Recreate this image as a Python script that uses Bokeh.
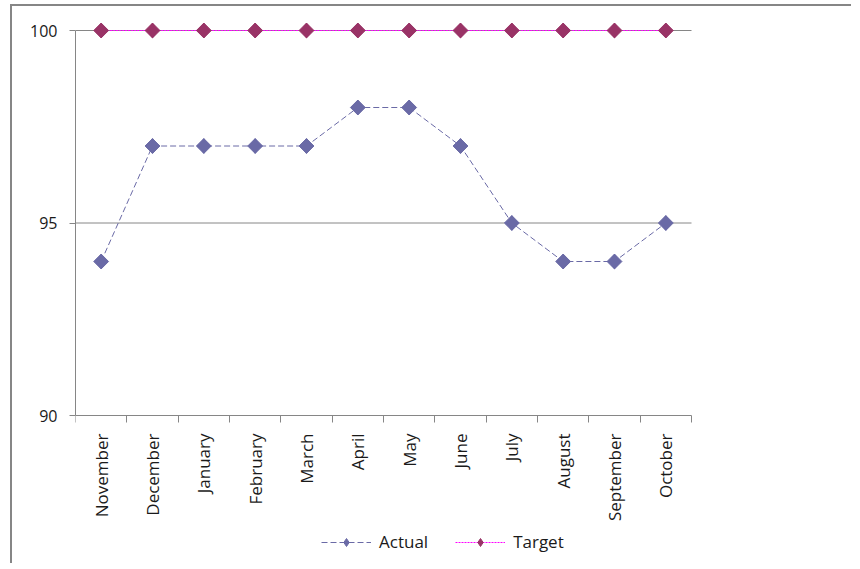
import math
from bokeh.plotting import figure
from bokeh.models import Range1d, FixedTicker, Legend, LegendItem, ColumnDataSource
from bokeh.embed import file_html
from bokeh.resources import INLINE

# Monthly performance against a fixed target
months = ["November", "December", "January", "February", "March", "April",
          "May", "June", "July", "August", "September", "October"]
actual = [94, 97, 97, 97, 97, 98, 98, 97, 95, 94, 94, 95]
target = [100, 100, 100, 100, 100, 100, 100, 100, 100, 100, 100, 100]
y_ticks = [90, 95, 100]

FONT = "Open Sans"
GREY = "#868686"
TEXT = "#1a1a1a"
ACTUAL_COLOR = "#6A6AA6"
TARGET_COLOR = "#993366"
TARGET_LINE = "#FF00FF"

n = len(months)
idx = list(range(n))
src = ColumnDataSource(dict(x=idx, month=months, actual=actual, target=target))

# Frame covers the plot, the category labels and the legend; the value
# axis spans 385 px and the categories 616 px of it.
CAT_PX, FRAME_W = 616, 736
PLOT_PX, FRAME_H = 385, 543
HEAD_PX = 10  # room above the top value so its markers stay whole
x_lo, x_hi = -0.5, n - 0.5
y_min, y_max = y_ticks[0], y_ticks[-1]
px_per_unit = PLOT_PX / (y_max - y_min)
x_end = x_lo + (x_hi - x_lo) * FRAME_W / CAT_PX
y_end = y_max + HEAD_PX / px_per_unit
y_start = y_end - FRAME_H / px_per_unit

p = figure(frame_width=FRAME_W, frame_height=FRAME_H,
           output_backend="svg", toolbar_location=None,
           x_range=Range1d(x_lo, x_end), y_range=Range1d(y_start, y_end),
           min_border_left=63, min_border_right=40,
           min_border_top=14, min_border_bottom=0)
p.margin = (4, 0, 0, 10)
p.styles = {"border-left": f"2px solid {GREY}", "border-top": f"2px solid {GREY}"}
p.outline_line_color = None
p.background_fill_color = "white"
p.border_fill_color = "white"

# y axis
p.yaxis.ticker = FixedTicker(ticks=y_ticks)
p.yaxis.bounds = (y_min, y_max)
p.yaxis.axis_line_color = GREY
p.yaxis.major_tick_line_color = GREY
p.yaxis.major_tick_out = 6
p.yaxis.major_tick_in = 0
p.yaxis.minor_tick_line_color = None
p.yaxis.major_label_standoff = 12
p.yaxis.major_label_text_font = FONT
p.yaxis.major_label_text_font_size = "16px"
p.yaxis.major_label_text_color = TEXT

# x axis sits on the bottom value; labels at category centres,
# tick marks between categories
p.xaxis.fixed_location = y_min
p.xaxis.ticker = FixedTicker(ticks=idx, minor_ticks=[i - 0.5 for i in range(n + 1)])
p.xaxis.bounds = (x_lo, x_hi)
p.xaxis.major_label_overrides = {i: m for i, m in enumerate(months)}
p.xaxis.major_label_orientation = math.pi / 2
p.xaxis.axis_line_color = GREY
p.xaxis.major_tick_line_color = None
p.xaxis.major_tick_out = 7
p.xaxis.major_tick_in = 0
p.xaxis.minor_tick_line_color = GREY
p.xaxis.minor_tick_out = 7
p.xaxis.minor_tick_in = 0
p.xaxis.major_label_standoff = 11
p.xaxis.major_label_text_font = FONT
p.xaxis.major_label_text_font_size = "17px"
p.xaxis.major_label_text_color = TEXT

# horizontal gridlines across the category span only
p.grid.grid_line_color = None
grid_y = y_ticks[1:]
p.segment(x0=[x_lo] * len(grid_y), y0=grid_y, x1=[x_hi] * len(grid_y), y1=grid_y,
          line_color=GREY, line_width=1)

# series lines
a_line = p.line("x", "actual", source=src, line_color=ACTUAL_COLOR, line_width=1,
                line_dash="6 3")
t_line = p.line("x", "target", source=src, line_color=TARGET_LINE, line_width=1,
                line_dash="2 1")

# diamond markers used as legend swatches; they sit inside the rotated
# square markers drawn on top of them
a_key = p.scatter("x", "actual", source=src, marker="diamond", size=14.5,
                  fill_color=ACTUAL_COLOR, line_color=ACTUAL_COLOR)
t_key = p.scatter("x", "target", source=src, marker="diamond", size=14.5,
                  fill_color=TARGET_COLOR, line_color=TARGET_COLOR)

# series markers
p.scatter("x", "actual", source=src, marker="square", angle=math.pi / 4,
          size=10.5, fill_color=ACTUAL_COLOR, line_color=ACTUAL_COLOR)
p.scatter("x", "target", source=src, marker="square", angle=math.pi / 4,
          size=10.5, fill_color=TARGET_COLOR, line_color=TARGET_COLOR)

legend = Legend(items=[LegendItem(label="Actual", renderers=[a_line, a_key]),
                       LegendItem(label="Target", renderers=[t_line, t_key])],
                orientation="horizontal", location=(246, 10),
                glyph_width=50, glyph_height=20, label_height=20,
                label_standoff=8, spacing=27,
                padding=0, margin=0, border_line_color=None,
                background_fill_alpha=0,
                label_text_font=FONT, label_text_font_size="17px",
                label_text_color=TEXT)
p.add_layout(legend, "center")

open("out.html", "w").write(file_html(p, INLINE))
